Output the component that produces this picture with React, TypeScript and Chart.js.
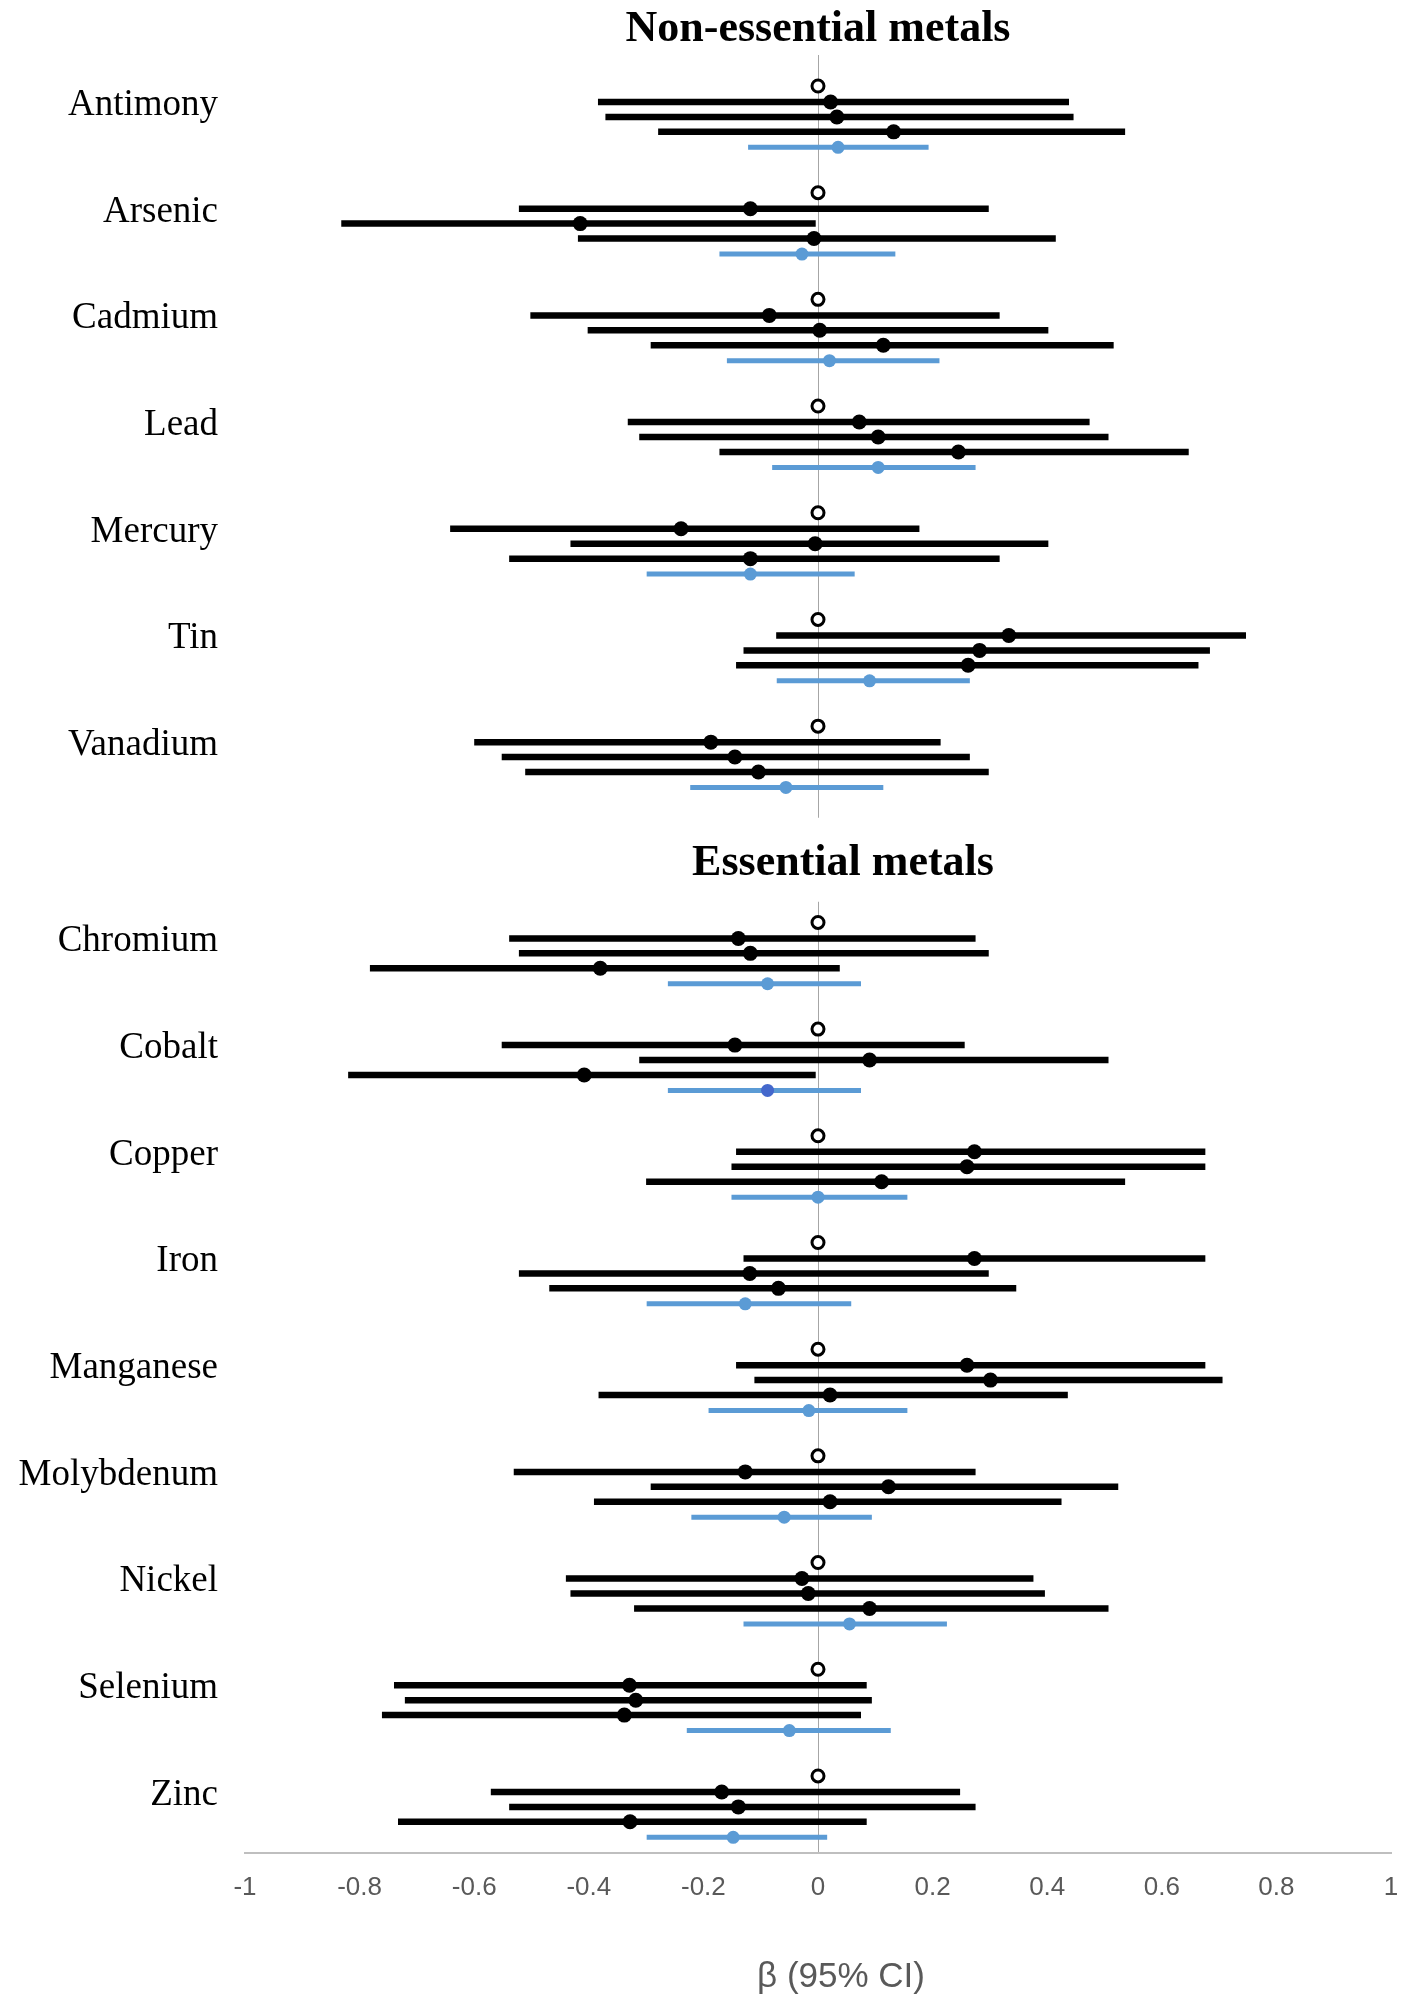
import React, { useEffect, useRef } from "react";
import { Chart, registerables } from "chart.js";

Chart.register(...registerables);

// ---------- DATA ----------
const categories = [
  "Antimony", "Arsenic", "Cadmium", "Lead", "Mercury", "Tin", "Vanadium",
  "Chromium", "Cobalt", "Copper", "Iron", "Manganese", "Molybdenum", "Nickel", "Selenium", "Zinc",
];
const sectionTitles = ["Non-essential metals", "Essential metals"];
const nonEssentialCount = 7;
const xAxisTitle = "β (95% CI)";
const xMin = -1;
const xMax = 1;
const xStep = 0.2;

// reference category (open circle)
const referenceEst = [0, 0, 0, 0, 0, 0, 0, 0, 0, 0, 0, 0, 0, 0, 0, 0];

// model 1 (black, first row)
const model1Est = [0.022, -0.118, -0.085, 0.072, -0.239, 0.333, -0.187, -0.139, -0.145, 0.273, 0.273, 0.26, -0.127, -0.028, -0.329, -0.168];
const model1Lo = [-0.384, -0.522, -0.502, -0.332, -0.642, -0.073, -0.6, -0.539, -0.552, -0.143, -0.13, -0.143, -0.531, -0.44, -0.74, -0.571];
const model1Hi = [0.438, 0.298, 0.317, 0.474, 0.177, 0.747, 0.214, 0.275, 0.256, 0.676, 0.676, 0.676, 0.275, 0.376, 0.085, 0.248];

// model 2 (black, second row)
const model2Est = [0.033, -0.415, 0.003, 0.105, -0.005, 0.282, -0.145, -0.118, 0.09, 0.26, -0.119, 0.301, 0.123, -0.017, -0.318, -0.139];
const model2Lo = [-0.371, -0.832, -0.402, -0.312, -0.432, -0.13, -0.552, -0.522, -0.312, -0.151, -0.522, -0.111, -0.292, -0.432, -0.721, -0.539];
const model2Hi = [0.446, -0.004, 0.402, 0.507, 0.402, 0.684, 0.265, 0.298, 0.507, 0.676, 0.298, 0.706, 0.524, 0.396, 0.094, 0.275];

// model 3 (black, third row)
const model3Est = [0.132, -0.007, 0.114, 0.245, -0.118, 0.262, -0.104, -0.38, -0.408, 0.111, -0.069, 0.021, 0.021, 0.09, -0.338, -0.328];
const model3Lo = [-0.279, -0.419, -0.292, -0.172, -0.539, -0.143, -0.511, -0.782, -0.82, -0.3, -0.469, -0.383, -0.391, -0.321, -0.761, -0.733];
const model3Hi = [0.536, 0.415, 0.516, 0.647, 0.317, 0.664, 0.298, 0.038, -0.004, 0.536, 0.346, 0.436, 0.425, 0.507, 0.075, 0.085];

// pooled (blue)
const pooledEst = [0.035, -0.028, 0.02, 0.105, -0.118, 0.09, -0.056, -0.088, -0.088, 0.0, -0.127, -0.016, -0.059, 0.055, -0.05, -0.148];
const pooledLo = [-0.122, -0.172, -0.159, -0.08, -0.299, -0.072, -0.223, -0.262, -0.262, -0.151, -0.299, -0.191, -0.221, -0.13, -0.229, -0.299];
const pooledHi = [0.193, 0.135, 0.212, 0.275, 0.064, 0.265, 0.114, 0.075, 0.075, 0.156, 0.058, 0.156, 0.094, 0.225, 0.127, 0.016];

// ---------- LAYOUT (slot units) ----------
const SECTION_GAP = 0.84;
const ROW_OFFSETS = [0, 0.15, 0.29, 0.43, 0.575];
const groupY = (i: number) => i + (i >= nonEssentialCount ? SECTION_GAP : 0);

const BLACK = "#000000";
const BLUE = "#5B9BD5";
const BLUE_DARK = "#4468CC";
const SERIF = '"Liberation Serif", "Times New Roman", serif';
const NARROW = '"Liberation Sans Narrow", "Liberation Sans", sans-serif';

function ciData(lo: number[], hi: number[], row: number) {
  const out: { x: number; y: number }[] = [];
  lo.forEach((l, i) => {
    const y = groupY(i) + ROW_OFFSETS[row];
    out.push({ x: l, y });
    out.push({ x: hi[i], y });
    out.push({ x: NaN, y: NaN });
  });
  return out;
}
function pointData(est: number[], row: number) {
  return est.map((e, i) => ({ x: e, y: groupY(i) + ROW_OFFSETS[row] }));
}

const labelsPlugin = {
  id: "forestLabels",
  afterDraw(chart: any) {
    const { ctx, chartArea } = chart;
    const ys = chart.scales.y;
    const xs = chart.scales.x;
    ctx.save();
    ctx.fillStyle = "#000";
    ctx.font = `37px ${SERIF}`;
    ctx.textAlign = "right";
    ctx.textBaseline = "middle";
    categories.forEach((c, i) => {
      ctx.fillText(c, chartArea.left - 27, ys.getPixelForValue(groupY(i) + 0.18));
    });
    const x0 = xs.getPixelForValue(0);
    // section titles
    ctx.font = `bold 44px ${SERIF}`;
    ctx.textAlign = "center";
    const t1y = ys.getPixelForValue(groupY(0) - 0.53);
    ctx.fillText(sectionTitles[0], x0, t1y);
    const t2y = ys.getPixelForValue(groupY(nonEssentialCount) - 0.55);
    ctx.fillStyle = "#fff";
    ctx.fillRect(x0 + 25 - 160, t2y - 46, 320, 84);
    ctx.fillStyle = "#000";
    ctx.fillText(sectionTitles[1], x0 + 25, t2y);
    // axis title
    ctx.fillStyle = "#595959";
    ctx.font = `35px ${NARROW}`;
    ctx.fillText(xAxisTitle, x0 + 23, chartArea.bottom + 125);
    ctx.restore();
  },
};

export default function App() {
  const canvasRef = useRef<HTMLCanvasElement | null>(null);

  useEffect(() => {
    document.body.style.margin = "0";
    const canvas = canvasRef.current;
    if (!canvas) return;
    const blackLine = (lo: number[], hi: number[], row: number) => ({
      type: "scatter" as const,
      data: ciData(lo, hi, row),
      showLine: true,
      borderColor: BLACK,
      borderWidth: 6.5,
      pointRadius: 0,
      spanGaps: false,
      order: 2,
    });
    const blackPts = (est: number[], row: number) => ({
      type: "scatter" as const,
      data: pointData(est, row),
      pointRadius: 7.5,
      pointBackgroundColor: BLACK,
      pointBorderWidth: 0,
      order: 0,
    });
    const chart = new Chart(canvas, {
      type: "scatter",
      data: {
        datasets: [
          {
            data: pointData(referenceEst, 0),
            pointRadius: 6,
            pointBackgroundColor: "#fff",
            pointBorderColor: BLACK,
            pointBorderWidth: 3,
            order: 0,
          },
          blackPts(model1Est, 1),
          blackPts(model2Est, 2),
          blackPts(model3Est, 3),
          {
            data: pointData(pooledEst, 4),
            pointRadius: 6.5,
            pointBackgroundColor: categories.map((c) => (c === "Cobalt" ? BLUE_DARK : BLUE)),
            pointBorderWidth: 0,
            order: 0,
          },
          blackLine(model1Lo, model1Hi, 1),
          blackLine(model2Lo, model2Hi, 2),
          blackLine(model3Lo, model3Hi, 3),
          {
            data: ciData(pooledLo, pooledHi, 4),
            showLine: true,
            borderColor: BLUE,
            borderWidth: 5,
            pointRadius: 0,
            spanGaps: false,
            order: 2,
          },
        ] as any,
      },
      options: {
        animation: false,
        responsive: false,
        maintainAspectRatio: false,
        layout: { padding: { left: 245, right: 17, top: 55, bottom: 91 } },
        plugins: { legend: { display: false }, tooltip: { enabled: false } },
        scales: {
          x: {
            type: "linear",
            min: xMin,
            max: xMax,
            border: { display: true, color: "#bfbfbf", width: 2 },
            grid: {
              display: true,
              drawTicks: true,
              tickLength: 16,
              tickColor: "rgba(0,0,0,0)",
              color: (ctx: any) => (ctx.tick && ctx.tick.value === 0 ? "#a6a6a6" : "rgba(0,0,0,0)"),
              lineWidth: 1,
            },
            ticks: {
              stepSize: xStep,
              padding: 3,
              color: "#595959",
              font: { family: NARROW, size: 26 },
              callback: (v: any) => String(Number(Number(v).toFixed(1))),
            },
            title: { display: false },
          },
          y: {
            type: "linear",
            display: false,
            reverse: true,
            min: (55 - 86) / 106.7,
            max: (1853 - 86) / 106.7,
          },
        },
      } as any,
      plugins: [labelsPlugin],
    });
    return () => chart.destroy();
  }, []);

  return (
    <div style={{ position: "absolute", left: 0, top: 0, width: 1408, height: 1997, background: "#fff" }}>
      <canvas ref={canvasRef} width={1408} height={1997} style={{ display: "block" }} />
    </div>
  );
}
